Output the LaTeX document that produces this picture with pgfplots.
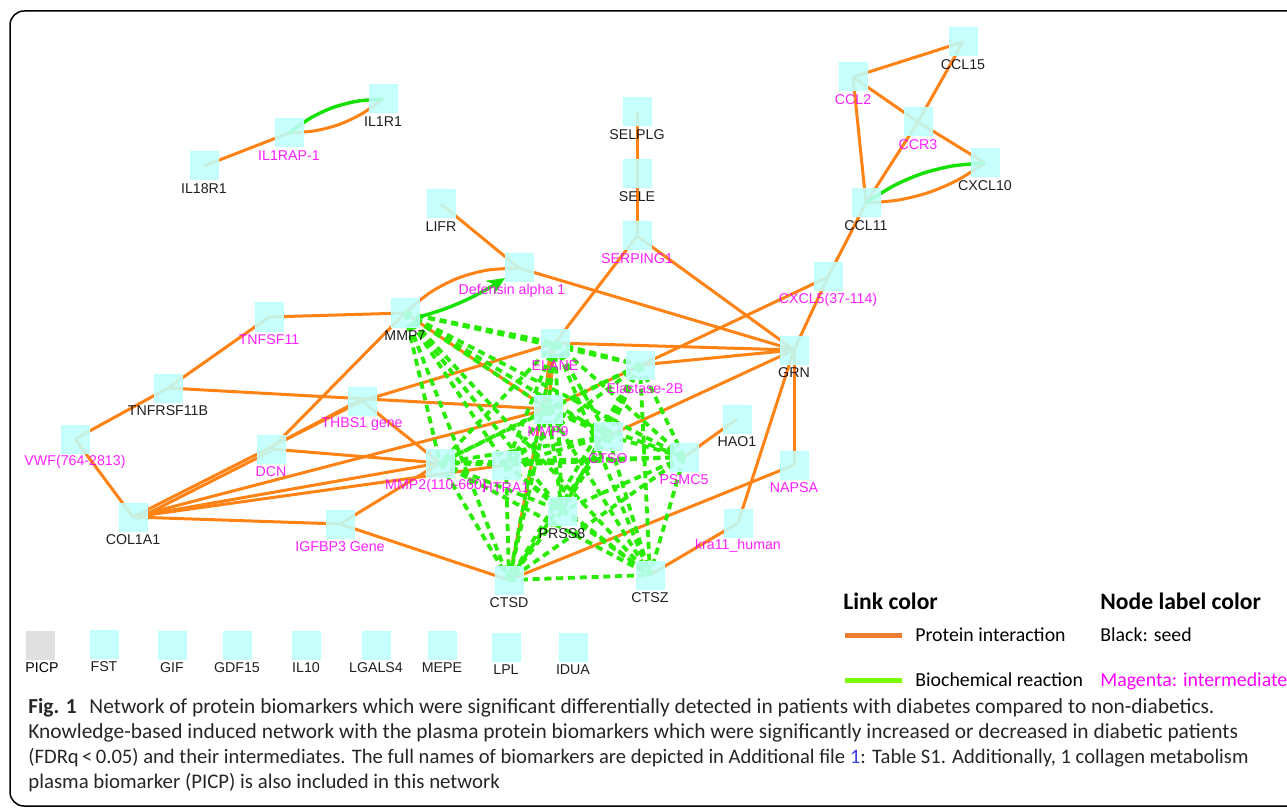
\documentclass[border=0pt]{standalone}
\usepackage{pgfplots}
\pgfplotsset{compat=1.18}
\usepackage{pgfplotstable}
\usetikzlibrary{arrows.meta}
\usepackage{fontspec}
\setmainfont{Carlito}
\newfontfamily\lab{Liberation Sans}

\definecolor{nodecyan}{RGB}{191,255,252}
\definecolor{orng}{RGB}{255,130,20}
\definecolor{grn}{RGB}{20,225,0}
\definecolor{dgrn}{RGB}{40,235,0}
\definecolor{mag}{RGB}{255,0,255}
\definecolor{legor}{RGB}{237,125,49}
\definecolor{leggr}{RGB}{124,252,0}
\definecolor{picp}{RGB}{224,224,224}
\definecolor{linkblue}{RGB}{60,60,230}

\pgfplotsset{
  pint/.style={orng, line width=1.5pt, forget plot, no marks},
  bdash/.style={dgrn, line width=1.9pt, dash pattern=on 3.5pt off 2.4pt, forget plot, no marks},
  bsolid/.style={grn, line width=1.7pt, forget plot, no marks, smooth},
  boxes/.style={only marks, mark=square*, mark size=7pt, forget plot,
    mark options={fill=nodecyan, draw=nodecyan, line width=0pt, fill opacity=0.88},
    nodes near coords, point meta=explicit symbolic},
  lbl/.style={every node near coord/.append style={anchor=center, yshift=-11.5pt,
    font=\lab\fontsize{7.1}{8}\selectfont, #1}},
}
\newcommand{\pe}[4]{\addplot[pint] coordinates {(#1,#2) (#3,#4)};}
\newcommand{\bd}[4]{\addplot[bdash] coordinates {(#1,#2) (#3,#4)};}

% node positions (pixel units, y downwards)
\pgfplotstableread[col sep=comma]{
x,y,name
204,166,IL18R1
383,99,IL1R1
441,204,LIFR
637,112,SELPLG
637,174,SELE
963,42,CCL15
985,163,CXCL10
866,203,CCL11
794,350,GRN
405,313,MMP7
168,388,TNFRSF11B
133,517,COL1A1
737,419,HAO1
562,511,PRSS8
509,580,CTSD
650,575,CTSZ
104,644,FST
172,645,GIF
237,645,GDF15
306,645,IL10
376,645,LGALS4
442,645,MEPE
506,647,LPL
573,647,IDUA
}\seeds

\pgfplotstableread[col sep=comma]{
x,y,name
289,133,IL1RAP-1
637,236,SERPING1
853,77,CCL2
918,122,CCR3
828,277,CXCL5(37-114)
269,317,TNFSF11
75,439,VWF(764-2813)
271,449,DCN
362,401,THBS1 gene
555,343,ELANE
548,409,MMP9
608,436,CTSO
684,457,PSMC5
794,465,NAPSA
506,465,HTRA1
340,524,IGFBP3 Gene
738,523,kra11\_human
}\inter

\begin{document}
\begin{tikzpicture}
\begin{axis}[
  width=643.5pt, height=404pt, scale only axis, hide axis,
  xmin=0, xmax=1287, ymin=0, ymax=808, y dir=reverse, clip=false,
  nodes near coords align={anchor=center},
]
\coordinate (bl) at (axis cs:0,808);
\coordinate (tr) at (axis cs:1287,0);
\draw[line width=0.75pt, rounded corners=7pt] (axis cs:10,11) rectangle (axis cs:1310,806);

% protein interactions
\pe{204}{166}{289}{133}
\pe{637}{112}{637}{174}
\pe{637}{174}{637}{236}
\pe{637}{236}{555}{343}
\pe{637}{236}{794}{350}
\pe{441}{204}{519}{268}
\pe{519}{268}{794}{350}
\pe{853}{77}{963}{42}
\pe{853}{77}{918}{122}
\pe{963}{42}{918}{122}
\pe{918}{122}{985}{163}
\pe{918}{122}{866}{203}
\pe{853}{77}{866}{203}
\pe{866}{203}{828}{277}
\pe{828}{277}{794}{350}
\pe{828}{277}{548}{409}
\pe{640}{365}{794}{350}
\pe{555}{343}{794}{350}
\pe{608}{436}{794}{350}
\pe{794}{350}{794}{465}
\pe{794}{350}{738}{523}
\pe{509}{580}{794}{465}
\pe{650}{575}{738}{523}
\pe{684}{457}{737}{419}
\pe{405}{313}{269}{317}
\pe{269}{317}{168}{388}
\pe{168}{388}{75}{439}
\pe{168}{388}{548}{409}
\pe{75}{439}{133}{517}
\pe{133}{517}{362}{401}
\pe{137}{519}{271}{451}
\pe{271}{447}{362}{399}
\pe{271}{449}{405}{313}
\pe{133}{517}{548}{409}
\pe{133}{517}{440}{463}
\pe{133}{517}{506}{465}
\pe{133}{517}{340}{524}
\pe{340}{524}{440}{463}
\pe{340}{524}{509}{580}
\pe{362}{401}{440}{463}
\pe{271}{449}{440}{463}
\pe{362}{401}{555}{343}
\pe{405}{313}{548}{409}
\pe{555}{343}{548}{409}
\pe{551}{343}{544}{409}
\pe{509}{580}{555}{343}
\addplot[pint, smooth] coordinates {(289,133) (314.8,130.8) (339.1,124.5) (361.8,113.8) (383,99)};
\addplot[pint, smooth] coordinates {(405,313) (429.9,292.7) (457.2,278.4) (486.9,270.2) (519,268)};
\addplot[pint, smooth] coordinates {(866,203) (898.1,200.1) (928.7,192.5) (957.6,180.1) (985,163)};

% biochemical reactions (dashed)
\bd{405}{313}{555}{343}
\bd{405}{313}{640}{365}
\bd{405}{313}{548}{409}
\bd{405}{313}{608}{436}
\bd{405}{313}{684}{457}
\bd{405}{313}{440}{463}
\bd{405}{313}{506}{465}
\bd{405}{313}{562}{511}
\bd{405}{313}{509}{580}
\bd{405}{313}{650}{575}
\bd{555}{343}{640}{365}
\bd{555}{343}{548}{409}
\bd{555}{343}{608}{436}
\bd{555}{343}{684}{457}
\bd{555}{343}{440}{463}
\bd{555}{343}{506}{465}
\bd{555}{343}{562}{511}
\bd{555}{343}{509}{580}
\bd{555}{343}{650}{575}
\bd{640}{365}{548}{409}
\bd{640}{365}{608}{436}
\bd{640}{365}{684}{457}
\bd{640}{365}{440}{463}
\bd{640}{365}{506}{465}
\bd{640}{365}{562}{511}
\bd{640}{365}{509}{580}
\bd{640}{365}{650}{575}
\bd{548}{409}{608}{436}
\bd{548}{409}{684}{457}
\bd{548}{409}{440}{463}
\bd{548}{409}{506}{465}
\bd{548}{409}{562}{511}
\bd{548}{409}{509}{580}
\bd{548}{409}{650}{575}
\bd{608}{436}{684}{457}
\bd{608}{436}{440}{463}
\bd{608}{436}{506}{465}
\bd{608}{436}{562}{511}
\bd{608}{436}{509}{580}
\bd{608}{436}{650}{575}
\bd{684}{457}{440}{463}
\bd{684}{457}{506}{465}
\bd{684}{457}{562}{511}
\bd{684}{457}{509}{580}
\bd{684}{457}{650}{575}
\bd{440}{463}{506}{465}
\bd{440}{463}{562}{511}
\bd{440}{463}{509}{580}
\bd{440}{463}{650}{575}
\bd{506}{465}{562}{511}
\bd{506}{465}{509}{580}
\bd{506}{465}{650}{575}
\bd{562}{511}{509}{580}
\bd{562}{511}{650}{575}
\bd{509}{580}{650}{575}

% biochemical reactions (solid curves)
\addplot[bsolid] coordinates {(289,133) (310.2,118.2) (332.9,107.5) (357.2,101.2) (383,99)};
\addplot[bsolid] coordinates {(866,203) (893.4,185.9) (922.3,173.5) (952.9,165.9) (985,163)};
\addplot[bsolid, -{Stealth[length=9pt,width=8pt]}] coordinates {(419,317) (441.7,310) (463.7,301.1) (484.7,290.5) (505,278)};

% nodes
\addplot[boxes, lbl=black] table[x=x, y=y, meta=name] {\seeds};
\addplot[boxes, lbl=mag] table[x=x, y=y, meta=name] {\inter};
\addplot[boxes, lbl={mag, xshift=-3.5pt}] coordinates {(519,268) [Defensin alpha 1]};
\addplot[boxes, lbl={mag, xshift=2.5pt}] coordinates {(640,365) [Elastase-2B]};
\addplot[boxes, lbl={mag, xshift=-2pt}] coordinates {(440,463) [MMP2(110-660)]};
\addplot[boxes, mark options={fill=picp, draw=picp, fill opacity=1}, lbl={black, xshift=1pt}] coordinates {(40,645) [PICP]};

% legend
\addplot[legor, line width=2.5pt, forget plot, no marks] coordinates {(845,635) (902,635)};
\addplot[leggr, line width=2.5pt, forget plot, no marks] coordinates {(845,680) (902,680)};
\node[anchor=base west, inner sep=0pt, font=\bfseries\fontsize{11.8}{13}\selectfont] at (axis cs:843,609) {Link color};
\node[anchor=base west, inner sep=0pt, font=\bfseries\fontsize{11.8}{13}\selectfont] at (axis cs:1100,609) {Node label color};
\node[anchor=base west, inner sep=0pt, font=\fontsize{9.9}{11}\selectfont] at (axis cs:915,641) {Protein interaction};
\node[anchor=base west, inner sep=0pt, font=\fontsize{9.9}{11}\selectfont] at (axis cs:1100,641) {Black: seed};
\node[anchor=base west, inner sep=0pt, font=\fontsize{9.9}{11}\selectfont] at (axis cs:915,686) {Biochemical reaction};
\node[anchor=base west, inner sep=0pt, font=\fontsize{9.9}{11}\selectfont, mag] at (axis cs:1100,686) {Magenta: intermediate};

% caption
\begin{scope}[every node/.style={anchor=base west, inner sep=0pt, font=\fontsize{10.7}{12}\selectfont, text=black!85}]
\node at (axis cs:28,713) {\textbf{Fig. 1}\hspace{0.6em}Network of protein biomarkers which were significant differentially detected in patients with diabetes compared to non-diabetics.};
\node at (axis cs:28,738) {Knowledge-based induced network with the plasma protein biomarkers which were significantly increased or decreased in diabetic patients};
\node[font=\fontsize{10.3}{12}\selectfont] at (axis cs:28,763) {(FDRq\,<\,0.05) and their intermediates. The full names of biomarkers are depicted in Additional file \textcolor{linkblue}{1}: Table S1. Additionally, 1 collagen metabolism};
\node[font=\fontsize{10.4}{12}\selectfont] at (axis cs:28,788) {plasma biomarker (PICP) is also included in this network};
\end{scope}
\end{axis}
\pgfresetboundingbox
\path (bl) rectangle (tr);
\end{tikzpicture}
\end{document}
